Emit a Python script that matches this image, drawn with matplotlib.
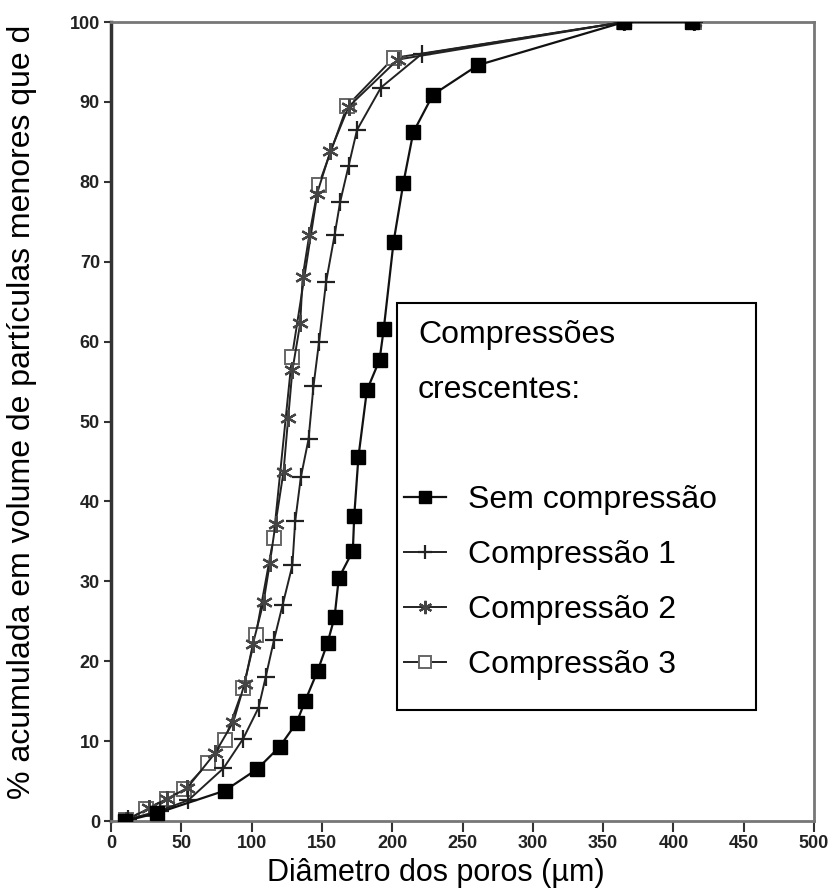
import matplotlib
matplotlib.use('Agg')
import matplotlib.pyplot as plt
from matplotlib.patches import Rectangle

plt.rcParams['font.family'] = ['Liberation Sans', 'DejaVu Sans']

# Sem compressão
sem_x = [10, 33, 81, 104, 120, 132, 138, 147, 154, 159, 162, 172, 173, 176,
         182, 191, 194, 201, 208, 215, 229, 261, 365, 413]
sem_y = [0, 1.0, 3.8, 6.5, 9.3, 12.3, 15.0, 18.8, 22.3, 25.5, 30.4, 33.8, 38.2, 45.6,
         53.9, 57.7, 61.6, 72.5, 79.9, 86.2, 90.9, 94.6, 100, 100]

# Compressão 1
c1_x = [12, 35, 55, 80, 94, 105, 110, 116, 122, 129, 131, 135, 140.5, 144,
        148, 153, 159, 163, 169, 175, 192, 221, 365, 415]
c1_y = [0.2, 1.3, 2.6, 6.6, 10.3, 14.2, 18.0, 22.7, 27.0, 32.0, 37.5, 43.0, 47.8, 54.4,
        60.0, 67.5, 73.3, 77.5, 82.0, 86.5, 91.8, 96.0, 100, 100]

# Compressão 2
c2_x = [11, 27, 40, 54, 74, 87, 95, 101, 108.5, 113, 117, 122.7, 126, 129,
        134.6, 136.3, 141, 146.5, 156, 169, 204, 365, 415]
c2_y = [0.1, 1.6, 2.8, 4.1, 8.5, 12.4, 17.2, 22.2, 27.4, 32.3, 37.2, 43.7, 50.4, 56.4,
        62.3, 68.1, 73.3, 78.5, 83.8, 89.4, 95.3, 100, 100]

# Compressão 3
c3_x = [11, 25, 40, 52, 69, 81, 94, 103, 115.6, 128.7, 147.7, 168, 201, 365, 415]
c3_y = [0.1, 1.5, 2.8, 4.0, 7.2, 10.2, 16.6, 23.3, 35.4, 58.1, 79.6, 89.5, 95.5, 100, 100]

labels = ['Sem compressão', 'Compressão 1', 'Compressão 2', 'Compressão 3']

fig = plt.figure(figsize=(8.32, 8.88), dpi=100)
W, H = 832, 888
ax = fig.add_axes([111 / W, 1 - 821 / H, (814 - 111) / W, (821 - 22) / H])

line_col = '#222222'
h0, = ax.plot(c3_x, c3_y, color=line_col, lw=1.4, marker='s', ms=10,
              mfc='white', mec='#666666', mew=1.4, zorder=3)
h1, = ax.plot(c2_x, c2_y, color=line_col, lw=1.4, marker=(6, 2, 0), ms=12,
              mec='#444444', mew=1.6, zorder=4)
h2, = ax.plot(c1_x, c1_y, color=line_col, lw=1.4, marker='+', ms=13,
              mec='#222222', mew=1.6, zorder=4)
h3, = ax.plot(sem_x, sem_y, color='#111111', lw=1.6, marker='s', ms=10.5,
              mfc='black', mec='black', zorder=5)

ax.set_xlim(0, 500)
ax.set_ylim(0, 100)
ax.set_xticks(range(0, 501, 50))
ax.set_yticks(range(0, 101, 10))
ax.tick_params(axis='x', direction='out', length=8, width=1.5, labelsize=13,
               pad=2, color='#333333')
ax.tick_params(axis='y', direction='out', length=5, width=1.5, labelsize=13,
               pad=3, color='#333333')
for lab in ax.get_xticklabels() + ax.get_yticklabels():
    lab.set_fontweight('bold')
    lab.set_color('#222222')

ax.spines['left'].set_color('#333333')
ax.spines['left'].set_linewidth(2.5)
for s in ['top', 'right', 'bottom']:
    ax.spines[s].set_color('#777777')
    ax.spines[s].set_linewidth(2.0)

fig.text(436 / W, 1 - 881 / H, 'Diâmetro dos poros (µm)', fontsize=22,
         ha='center', va='baseline')
fig.text(22 / W, 1 - 412 / H, '% acumulada em volume de partículas menores que d',
         fontsize=23, rotation=90, ha='center', va='center')

# legend box
fig.patches.append(Rectangle((397 / W, 1 - 710 / H), (756 - 397) / W, (710 - 303) / H,
                             transform=fig.transFigure, fill=False,
                             edgecolor='black', lw=1.5))
fig.text(418 / W, 1 - 335 / H, 'Compressões', fontsize=23, ha='left', va='center')
fig.text(418 / W, 1 - 390 / H, 'crescentes:', fontsize=23, ha='left', va='center')

leg = fig.legend([h3, h2, h1, h0], labels, loc='upper left',
                 bbox_to_anchor=(404 / W, 1 - 485 / H), frameon=False,
                 fontsize=23, handlelength=1.3, handletextpad=0.7,
                 labelspacing=0.78, borderpad=0, borderaxespad=0, markerscale=0.8)

fig.savefig('out.png', dpi=100)
